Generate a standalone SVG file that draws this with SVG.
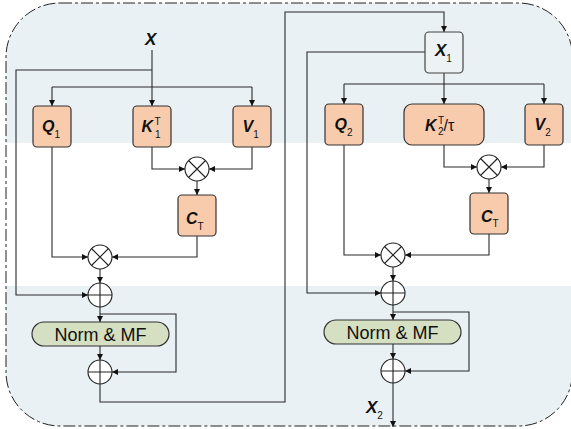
<svg xmlns="http://www.w3.org/2000/svg" width="571" height="429" viewBox="0 0 571 429">
<style>
.conn{fill:none;stroke:#2b2b2b;stroke-width:1.1}
.box{fill:#f8cbad;stroke:#333;stroke-width:1.2}
.xbox{fill:#edf3f5;stroke:#444;stroke-width:1.2}
.norm{fill:#d5dfc2;stroke:#333;stroke-width:1.2}
.op{fill:#fff;stroke:#222;stroke-width:1.1}
.opl{fill:none;stroke:#222;stroke-width:1.1}
.v{font-family:"Liberation Sans",Arial,sans-serif;font-weight:bold;font-style:italic;fill:#111}
.s{font-family:"Liberation Sans",Arial,sans-serif;font-weight:normal;font-style:normal;fill:#111}
.t{font-family:"Liberation Sans",Arial,sans-serif;font-size:18px;fill:#111}
</style>
<defs>
<clipPath id="frame"><rect x="6" y="3" width="566.5" height="423" rx="54" ry="54"/></clipPath>
<marker id="ah" markerWidth="6" markerHeight="6" refX="6" refY="3" orient="auto" markerUnits="userSpaceOnUse"><path d="M0,0 L6,3 L0,6 z" fill="#111"/></marker>
</defs>
<g id="background">
<rect x="0" y="0" width="571" height="429" fill="#fff"/>
<g clip-path="url(#frame)">
<rect x="0" y="0" width="571" height="143" fill="#e9f1f4"/>
<rect x="0" y="286" width="571" height="143" fill="#e9f1f4"/>
</g>
<rect x="6" y="3" width="566.5" height="423" rx="54" ry="54" fill="none" stroke="#222" stroke-width="1" stroke-dasharray="12 3 3 3"/>
</g>
<g id="connectors">
<path class="conn" d="M152,50 V106" marker-end="url(#ah)"/>
<path class="conn" d="M152,70 H16 V295 H88" marker-end="url(#ah)"/>
<path class="conn" d="M52,87 H252"/>
<path class="conn" d="M52,87 V106" marker-end="url(#ah)"/>
<path class="conn" d="M252,87 V106" marker-end="url(#ah)"/>
<path class="conn" d="M152,147 V169 H185" marker-end="url(#ah)"/>
<path class="conn" d="M252,147 V169 H209" marker-end="url(#ah)"/>
<path class="conn" d="M197,181 V195" marker-end="url(#ah)"/>
<path class="conn" d="M52,147 V257 H88" marker-end="url(#ah)"/>
<path class="conn" d="M197,236 V257 H112" marker-end="url(#ah)"/>
<path class="conn" d="M100,269 V283" marker-end="url(#ah)"/>
<path class="conn" d="M100,307 V322" marker-end="url(#ah)"/>
<path class="conn" d="M100,314 H176 V372 H112" marker-end="url(#ah)"/>
<path class="conn" d="M100,346 V360" marker-end="url(#ah)"/>
<path class="conn" d="M100,384 V402 H285 V12 H444 V32" marker-end="url(#ah)"/>
<path class="conn" d="M425,52 H307 V293 H381" marker-end="url(#ah)"/>
<path class="conn" d="M444,73 V104" marker-end="url(#ah)"/>
<path class="conn" d="M344,84 H544"/>
<path class="conn" d="M344,84 V104" marker-end="url(#ah)"/>
<path class="conn" d="M544,84 V104" marker-end="url(#ah)"/>
<path class="conn" d="M444,145 V167 H477" marker-end="url(#ah)"/>
<path class="conn" d="M544,145 V167 H501" marker-end="url(#ah)"/>
<path class="conn" d="M489,179 V193" marker-end="url(#ah)"/>
<path class="conn" d="M344,145 V255 H381" marker-end="url(#ah)"/>
<path class="conn" d="M489,234 V255 H405" marker-end="url(#ah)"/>
<path class="conn" d="M393,267 V281" marker-end="url(#ah)"/>
<path class="conn" d="M393,305 V320" marker-end="url(#ah)"/>
<path class="conn" d="M393,312 H469 V371 H405" marker-end="url(#ah)"/>
<path class="conn" d="M393,344 V359" marker-end="url(#ah)"/>
<path class="conn" d="M393,383 V427" marker-end="url(#ah)"/>
</g>
<g id="label-X"><text class="v" x="145" y="45" font-size="17">X</text></g>
<g id="Q1"><rect class="box" x="33" y="106" width="38" height="41" rx="4"/><text class="v" x="42" y="132" font-size="16">Q<tspan class="s" font-size="10" dy="6">1</tspan></text></g>
<g id="K1"><rect class="box" x="133" y="106" width="38" height="41" rx="4"/><text class="v" x="141.5" y="132" font-size="16">K</text><text class="s" x="154.5" y="125" font-size="10">T</text><text class="s" x="155" y="138" font-size="10">1</text></g>
<g id="V1"><rect class="box" x="233" y="106" width="38" height="41" rx="4"/><text class="v" x="242.5" y="132" font-size="16">V<tspan class="s" font-size="10" dy="6">1</tspan></text></g>
<g id="mul1a"><circle class="op" cx="197" cy="169" r="12"/><path class="opl" d="M188.5,160.5 L205.5,177.5 M205.5,160.5 L188.5,177.5"/></g>
<g id="CT1"><rect class="box" x="178" y="195" width="38" height="41" rx="4"/><text class="v" x="186" y="224" font-size="16">C<tspan class="s" font-size="10" dy="6">T</tspan></text></g>
<g id="mul1b"><circle class="op" cx="100" cy="257" r="12"/><path class="opl" d="M91.5,248.5 L108.5,265.5 M108.5,248.5 L91.5,265.5"/></g>
<g id="add1a"><circle class="op" cx="100" cy="295" r="12"/><path class="opl" d="M88,295 H112 M100,283 V307"/></g>
<g id="norm1"><rect class="norm" x="32" y="322" width="137" height="24" rx="12"/><text class="t" x="100.5" y="340.5" text-anchor="middle">Norm &amp; MF</text></g>
<g id="add1b"><circle class="op" cx="100" cy="372" r="12"/><path class="opl" d="M88,372 H112 M100,360 V384"/></g>
<g id="X1"><rect class="xbox" x="425" y="32" width="38" height="41" rx="4"/><text class="v" x="435" y="56" font-size="17">X<tspan class="s" font-size="10" dy="6">1</tspan></text></g>
<g id="Q2"><rect class="box" x="325" y="104" width="38" height="41" rx="4"/><text class="v" x="334.5" y="130" font-size="16">Q<tspan class="s" font-size="10" dy="6">2</tspan></text></g>
<g id="K2"><rect class="box" x="404" y="104" width="80" height="41" rx="8"/><text class="v" x="425" y="131" font-size="16">K</text><text class="s" x="438" y="124" font-size="10">T</text><text class="s" x="438" y="135" font-size="10">2</text><text class="s" x="443.5" y="131" font-size="16" font-style="italic">/τ</text></g>
<g id="V2"><rect class="box" x="525" y="104" width="38" height="41" rx="4"/><text class="v" x="534.5" y="130" font-size="16">V<tspan class="s" font-size="10" dy="6">2</tspan></text></g>
<g id="mul2a"><circle class="op" cx="489" cy="167" r="12"/><path class="opl" d="M480.5,158.5 L497.5,175.5 M497.5,158.5 L480.5,175.5"/></g>
<g id="CT2"><rect class="box" x="470" y="193" width="38" height="41" rx="4"/><text class="v" x="481" y="222" font-size="16">C<tspan class="s" font-size="10" dy="5">T</tspan></text></g>
<g id="mul2b"><circle class="op" cx="393" cy="255" r="12"/><path class="opl" d="M384.5,246.5 L401.5,263.5 M401.5,246.5 L384.5,263.5"/></g>
<g id="add2a"><circle class="op" cx="393" cy="293" r="12"/><path class="opl" d="M381,293 H405 M393,281 V305"/></g>
<g id="norm2"><rect class="norm" x="324" y="320" width="137" height="24" rx="12"/><text class="t" x="392.5" y="338.5" text-anchor="middle">Norm &amp; MF</text></g>
<g id="add2b"><circle class="op" cx="393" cy="371" r="12"/><path class="opl" d="M381,371 H405 M393,359 V383"/></g>
<g id="label-X2"><text class="v" x="366" y="413" font-size="17">X<tspan class="s" font-size="10" dy="6">2</tspan></text></g>
</svg>
